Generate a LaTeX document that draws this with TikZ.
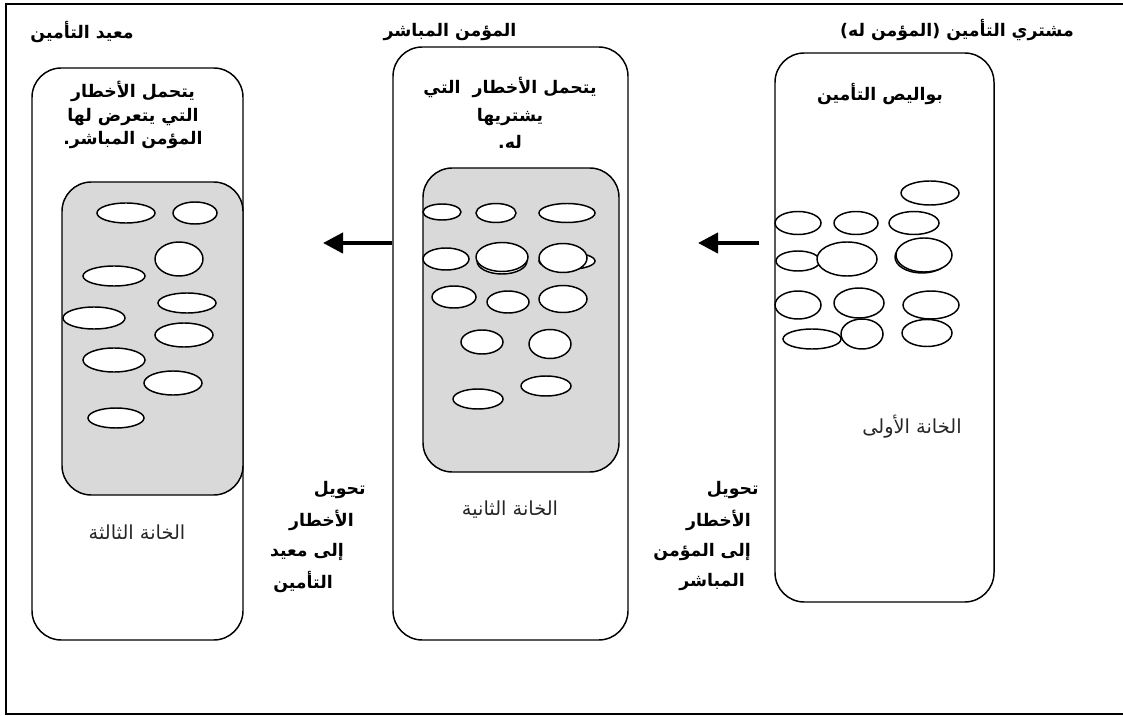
\documentclass[tikz,border=0pt]{standalone}
\usepackage{fontspec}
\usepackage{tikz}
\usetikzlibrary{fit,calc,positioning,arrows.meta}
\TeXXeTstate=1
\newfontfamily\arabicfont[Script=Arabic]{DejaVu Sans}
\newcommand{\artext}[1]{{\arabicfont\beginR #1\endR}}
\tikzset{
  column/.style={draw,line width=1.1pt,rounded corners=22pt,inner sep=0pt},
  pool/.style={draw,fill=black!15,line width=1.1pt,rounded corners=22pt,inner sep=0pt},
  oval/.style={draw,fill=white,line width=1.1pt},
  head/.style={font=\fontsize{13}{17.5}\selectfont\bfseries,inner sep=0pt},
  note/.style={font=\fontsize{14.5}{16}\selectfont,inner sep=0pt,text=black!85},
  transfer/.style={line width=3.2pt,-{Triangle[length=15pt,width=15pt]}}
}

\begin{document}
\begin{tikzpicture}[x=0.75pt,y=-0.75pt]
\useasboundingbox (0,0) rectangle (1123,716);
\draw[line width=1.3pt] (6,4) rectangle (1125,714);

\node[column,fit={(32,68) (243,640)}] (reins) {};
\node[column,fit={(393,47) (628,640)}] (direct) {};
\node[column,fit={(775,53) (994,602)}] (buyer) {};
\node[pool,fit={(62,182) (243,495)}] (reinsPool) {};
\node[pool,fit={(423,168) (619,472)}] (directPool) {};

\foreach \x/\y/\a/\b in {126/213/29/10, 195/213/22/11, 179/259/24/17, 114/276/31/10, 187/303/29/10,
  94/318/31/11, 184/335/29/12, 114/360/31/12, 173/383/29/12, 116/418/28/10}
  \draw[oval] (\x,\y) ellipse [x radius=\a, y radius=\b];
\foreach \x/\y/\a/\b in {567/261/28/8.5, 502/261/25/13, 442/212/19/8, 496/213/20/9.5, 567/213/28/9.5,
  446/259/23/11, 502/257/26/14.5, 563/258/24/14.5, 454/297/22/11, 508/302/21/11, 563/299/24/13.5,
  482/342/21/12, 550/344/21/14.5, 546/386/25/10, 478/399/25/10}
  \draw[oval] (\x,\y) ellipse [x radius=\a, y radius=\b];
\foreach \x/\y/\a/\b in {922/257/27/16, 930/193/29/12, 798/223/23/11.5, 856/223/22/11.5, 914/223/25/11.5,
  798/261/22/10, 847/259/30/17, 924/255/28/17, 798/305/23/14, 859/303/25/15, 931/305/28/14,
  812/339/29/10, 862/334/21/15, 927/333/25/13.5}
  \draw[oval] (\x,\y) ellipse [x radius=\a, y radius=\b];

\node[head] (reinsTitle) at (82,32) {\artext{معيد التأمين}};
\node[head] (directTitle) at (450,32) {\artext{المؤمن المباشر}};
\node[head] (buyerTitle) at (957,30) {\artext{مشتري التأمين (المؤمن له)}};

\node[head,align=center] (reinsRole) at (133,115) {\artext{يتحمل الأخطار}\\ \artext{التي يتعرض لها}\\ \artext{المؤمن المباشر.}};
\node[head,align=center,font=\fontsize{13}{20.5}\selectfont\bfseries] (directRole) at (510,113) {\artext{يتحمل الأخطار~ التي}\\ \artext{يشتريها}\\ \artext{له.}};
\node[head] (buyerRole) at (880,94) {\artext{بواليص التأمين}};

\node[note] (third) at (137,532) {\artext{الخانة الثالثة}};
\node[note] (second) at (510,510) {\artext{الخانة الثانية}};
\node[note] (first) at (912,427) {\artext{الخانة الأولى}};

\foreach \txt/\x/\y [count=\i] in {تحويل/366/490, الأخطار/354/520, إلى معيد/344/552, التأمين/333/582}
  \node[head,anchor=east] (toReins\i) at (\x,\y) {\artext{\txt}};
\foreach \txt/\x/\y [count=\i] in {تحويل/759/490, الأخطار/751/520, إلى المؤمن/751/552, المباشر/745/582}
  \node[head,anchor=east] (toDirect\i) at (\x,\y) {\artext{\txt}};

\coordinate (tipReins) at (323,243);
\coordinate (tipDirect) at (698,243);
\draw[transfer] (tipReins -| direct.west) -- (tipReins);
\draw[transfer] ($(tipDirect -| buyer.west)+(-15,0)$) -- (tipDirect);
\end{tikzpicture}
\end{document}
